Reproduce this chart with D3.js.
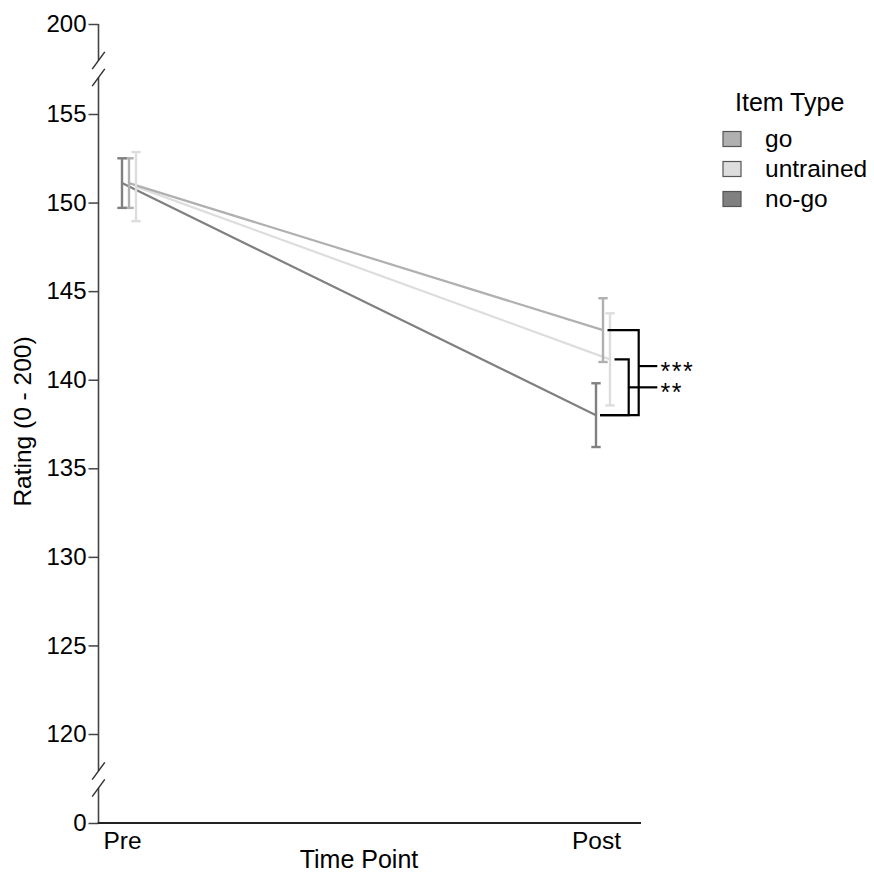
<!DOCTYPE html>
<html><head><meta charset="utf-8">
<script src="https://cdn.jsdelivr.net/npm/d3@7"></script>
<style>
body{margin:0;background:#fff}
text{font-family:"Liberation Sans",Arial,Helvetica,sans-serif;fill:#000}
</style>
</head><body>
<svg id="chart" width="874" height="876"></svg>
<script>
// ---------- data ----------
const timePoints = ["Pre", "Post"];
const itemTypes = ["go", "untrained", "no-go"];       // legend order
const dodgeOrder = ["no-go", "go", "untrained"];      // left-to-right order at each time point
const goMean = [151.1, 142.8];
const goSE = [1.4, 1.8];
const untrainedMean = [150.9, 141.15];
const untrainedSE = [1.95, 2.6];
const nogoMean = [151.1, 138.0];
const nogoSE = [1.4, 1.8];
const yTicks = [0, 120, 125, 130, 135, 140, 145, 150, 155, 200];
const yDomain = [0, 120, 155, 200];   // broken axis: 0 | 120..155 | 200
const sigFrom = ["go", "untrained"];
const sigTo = ["no-go", "no-go"];
const sigLabel = ["***", "**"];
const sigMid = [140.77, 139.57];
const yTitle = "Rating (0 - 200)";
const xTitle = "Time Point";
const legendTitle = "Item Type";

const series = {
  "go": {mean: goMean, se: goSE},
  "untrained": {mean: untrainedMean, se: untrainedSE},
  "no-go": {mean: nogoMean, se: nogoSE}
};

// ---------- scales ----------
const svg = d3.select("#chart");
const axisX = 98.5;
const y = d3.scaleLinear().domain(yDomain).range([823, 734, 114, 24]);
const x = d3.scalePoint().domain(timePoints).range([122, 596]);
const dodge = d3.scalePoint().domain(dodgeOrder).range([0, 14]);
const color = d3.scaleOrdinal().domain(itemTypes).range(["#b0b0b0", "#dddddd", "#808080"]);
const px = (t, s) => x(t) + dodge(s);

// ---------- y axis ----------
const yAxis = svg.append("g").attr("transform", `translate(${axisX},0)`)
  .call(d3.axisLeft(y).tickValues(yTicks).tickSize(10).tickPadding(2).tickFormat(d3.format("d")));
yAxis.select(".domain").remove();
yAxis.selectAll(".tick line").attr("stroke", "#444").attr("stroke-width", 1.5);
yAxis.selectAll(".tick text").attr("font-size", 24).attr("fill", "#000")
  .attr("font-family", "Liberation Sans, Arial, sans-serif");

const brk1 = (y(155) + y(200)) / 2;
const brk2 = (y(0) + y(120)) / 2 + 1;
const gap = 8.5;
const segs = [[y(200), brk1 - gap], [brk1 + gap, brk2 - gap], [brk2 + gap, y(0)]];
svg.append("g").selectAll("line").data(segs).join("line")
  .attr("x1", axisX).attr("x2", axisX)
  .attr("y1", d => d[0]).attr("y2", d => d[1])
  .attr("stroke", "#444").attr("stroke-width", 1.6);
const slashes = [brk1 - gap, brk1 + gap, brk2 - gap, brk2 + gap];
svg.append("g").selectAll("line").data(slashes).join("line")
  .attr("x1", axisX - 6.3).attr("y1", d => d + 8.6)
  .attr("x2", axisX + 6.3).attr("y2", d => d - 8.6)
  .attr("stroke", "#333").attr("stroke-width", 1.5);

// ---------- x axis ----------
svg.append("line").attr("x1", axisX - 0.8).attr("x2", 641)
  .attr("y1", y(0)).attr("y2", y(0)).attr("stroke", "#222").attr("stroke-width", 2);
const xAxis = svg.append("g").attr("transform", `translate(0,${y(0)})`)
  .call(d3.axisBottom(x).tickSize(0).tickPadding(9));
xAxis.select(".domain").remove();
xAxis.selectAll(".tick text").attr("font-size", 24.5).attr("fill", "#000")
  .attr("font-family", "Liberation Sans, Arial, sans-serif");

// axis titles
svg.append("text").attr("x", 359).attr("y", 868).attr("text-anchor", "middle")
  .attr("font-size", 25).text(xTitle);
svg.append("text").attr("transform", "translate(31,421.5) rotate(-90)")
  .attr("text-anchor", "middle").attr("font-size", 24.5).text(yTitle);

// ---------- lines ----------
const lineGen = d3.line().x(d => d.x).y(d => d.y);
const drawOrder = ["untrained", "go", "no-go"];
drawOrder.forEach(s => {
  const pts = timePoints.map((t, i) => ({x: px(t, s), y: y(series[s].mean[i])}));
  svg.append("path").attr("d", lineGen(pts)).attr("fill", "none")
    .attr("stroke", color(s)).attr("stroke-width", 2.2);
});

// ---------- error bars ----------
drawOrder.forEach(s => {
  const g = svg.append("g").attr("stroke", color(s)).attr("stroke-width", 2.4).attr("fill", "none");
  timePoints.forEach((t, i) => {
    const cx = px(t, s);
    const hi = y(series[s].mean[i] + series[s].se[i]);
    const lo = y(series[s].mean[i] - series[s].se[i]);
    g.append("line").attr("x1", cx).attr("x2", cx).attr("y1", hi).attr("y2", lo);
    g.append("line").attr("x1", cx - 4.7).attr("x2", cx + 4.7).attr("y1", hi).attr("y2", hi);
    g.append("line").attr("x1", cx - 4.7).attr("x2", cx + 4.7).attr("y1", lo).attr("y2", lo);
  });
});

// ---------- significance brackets ----------
const post = timePoints[1];
const bracketX = [638.7, 628.7];
sigLabel.forEach((lab, k) => {
  const a = sigFrom[k], b = sigTo[k];
  const ya = y(series[a].mean[1]), yb = y(series[b].mean[1]);
  const xa = px(post, a) + 4.5, xb = px(post, b) + 4;
  const bx = bracketX[k];
  svg.append("path")
    .attr("d", `M${xa},${ya}H${bx}V${yb}H${xb}`)
    .attr("fill", "none").attr("stroke", "#000").attr("stroke-width", 2.2);
  const ym = y(sigMid[k]);
  svg.append("line").attr("x1", bx).attr("x2", 657.3).attr("y1", ym).attr("y2", ym)
    .attr("stroke", "#000").attr("stroke-width", 2.2);
  svg.append("text").attr("x", 660.5).attr("y", ym + 13.5).attr("font-size", 25)
    .attr("letter-spacing", 1.5).text(lab);
});

// ---------- legend ----------
const legend = svg.append("g");
legend.append("text").attr("x", 735).attr("y", 110.5).attr("font-size", 25).text(legendTitle);
itemTypes.forEach((s, i) => {
  const y0 = 131 + i * 30;
  legend.append("rect").attr("x", 723).attr("y", y0 + 0.5).attr("width", 18).attr("height", 15)
    .attr("fill", color(s)).attr("stroke", "#555").attr("stroke-width", 1.2);
  legend.append("text").attr("x", 765).attr("y", y0 + 15.5).attr("font-size", 24.5).text(s);
});
</script>
</body></html>
